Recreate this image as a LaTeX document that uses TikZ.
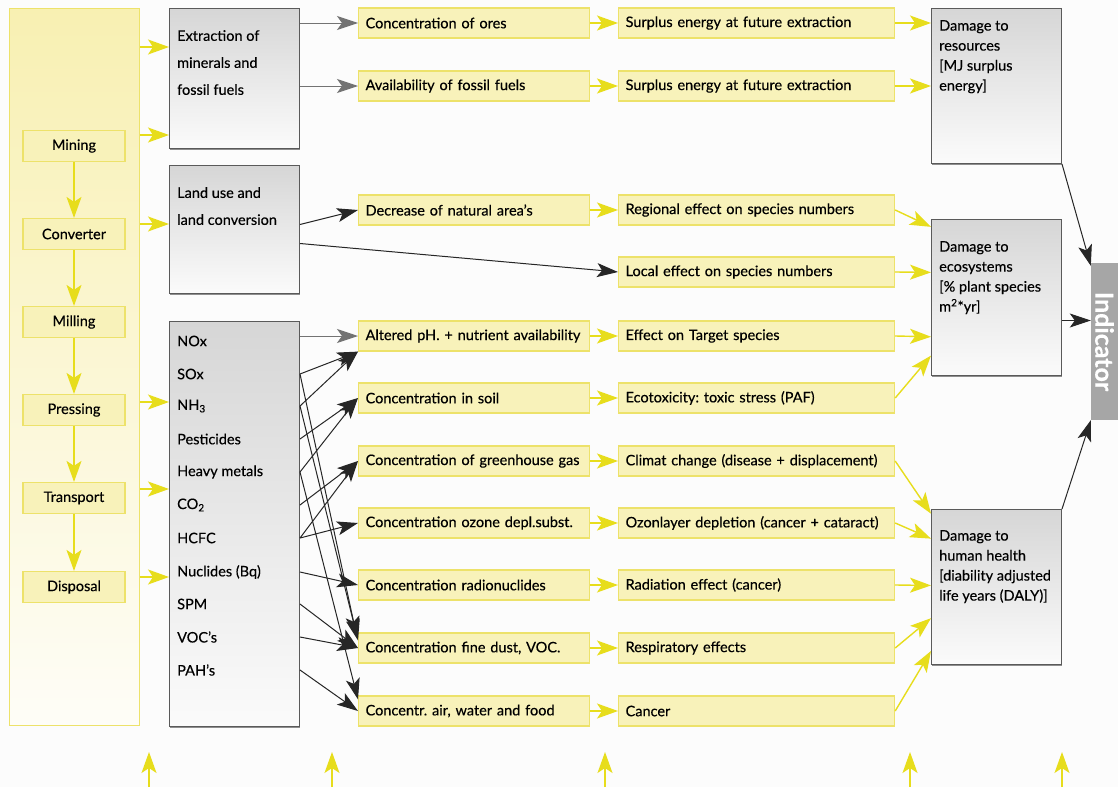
\documentclass[tikz,border=0pt]{standalone}
\usepackage{fontspec}
\setmainfont{Lato}[FakeBold=0.35]
\usetikzlibrary{positioning,arrows.meta,calc,shadows}
\frenchspacing

\definecolor{bgcol}{HTML}{FCFCFC}
\definecolor{ylline}{HTML}{EDE26A}
\definecolor{ylfill}{HTML}{F8F2BA}
\definecolor{ylarrow}{HTML}{E7DD1C}
\definecolor{paneltop}{HTML}{F8F0B2}
\definecolor{panelbot}{HTML}{FEFDF7}
\definecolor{grtop}{HTML}{D6D6D6}
\definecolor{grbot}{HTML}{FBFBFB}
\definecolor{grline}{HTML}{5A5A5A}
\definecolor{indgray}{HTML}{A6A6A6}

\tikzset{
  panel/.style={draw=ylline,line width=1pt,top color=paneltop,bottom color=panelbot,anchor=north west,minimum width=130pt,minimum height=717pt},
  stage/.style={draw=ylline,fill=ylfill,line width=1.2pt,minimum width=102pt,minimum height=31pt,inner sep=0pt},
  source/.style={draw=grline,line width=1pt,top color=grtop,bottom color=grbot,anchor=north west,minimum width=130pt,inner sep=0pt,
    drop shadow={shadow xshift=0.6pt,shadow yshift=-1.4pt,fill=black!55,opacity=0.8}},
  boxtext/.style={anchor=north west,align=left,inner sep=0pt},
  item/.style={anchor=west,inner sep=0pt},
  effect/.style={draw=ylline,fill=ylfill,line width=1.2pt,anchor=west,minimum height=30pt,align=left,inner xsep=7pt,inner ysep=0pt},
  conc/.style={effect,text width=217pt},
  impact/.style={effect,text width=262pt},
  yarrow/.style={draw=ylarrow,line width=1.4pt,-{Stealth[length=21pt,width=15pt,inset=5pt]}},
  barrow/.style={draw=black!85,line width=1pt,-{Stealth[length=21pt,width=14pt,inset=5pt]}},
  garrow/.style={barrow,draw=black!55},
}

\begin{document}
\begin{tikzpicture}[x=1pt,y=1pt,font=\fontsize{14.5}{17}\selectfont]
  \fill[bgcol] (0,0) rectangle (1118,-787);
  \useasboundingbox (0,0) rectangle (1118,-787);

  % process chain on the left
  \node[panel] (chain) at (9,-8) {};
  \node[stage] (mining) at (74,-146) {Mining};
  \node[stage] (converter) at (74,-234) {Converter};
  \node[stage] (milling) at (74,-322) {Milling};
  \node[stage] (pressing) at (74,-410) {Pressing};
  \node[stage] (transport) at (74,-498) {Transport};
  \node[stage] (disposal) at (74,-587) {Disposal};
  \draw[yarrow] (mining) -- (converter);
  \draw[yarrow] (converter) -- (milling);
  \draw[yarrow] (milling) -- (pressing);
  \draw[yarrow] (pressing) -- (transport);
  \draw[yarrow] (transport) -- (disposal);

  % inventory boxes
  \node[source,minimum height=140pt] (extr) at (169,-8) {};
  \node[boxtext,font=\fontsize{14.5}{27}\selectfont] (extrtxt) [below right=22pt and 8pt of extr.north west] {Extraction of\\minerals and\\fossil fuels};
  \node[source,minimum height=128pt] (land) at (169,-165) {};
  \node[boxtext,font=\fontsize{14.5}{27}\selectfont] (landtxt) [below right=22pt and 8pt of land.north west] {Land use and\\land conversion};
  \node[source,minimum height=405pt] (emis) at (169,-321) {};
  \node[item] (nox) at (177,-341) {NOx};
  \node[item] (sox) at (177,-374) {SOx};
  \node[item] (nh3) at (177,-406) {NH\textsubscript{3}};
  \node[item] (pest) at (177,-439) {Pesticides};
  \node[item] (metal) at (177,-472) {Heavy metals};
  \node[item] (co2) at (177,-505) {CO\textsubscript{2}};
  \node[item] (hcfc) at (177,-538) {HCFC};
  \node[item] (nucl) at (177,-572) {Nuclides (Bq)};
  \node[item] (spm) at (177,-604) {SPM};
  \node[item] (voc) at (177,-637) {VOC’s};
  \node[item] (pah) at (177,-670) {PAH’s};

  \draw[yarrow] (chain.east |- 0,-47) -- (extr.west |- 0,-47);
  \draw[yarrow] (chain.east |- 0,-135) -- (extr.west |- 0,-135);
  \draw[yarrow] (chain.east |- 0,-224) -- (land.west |- 0,-224);
  \draw[yarrow] (chain.east |- 0,-402) -- (emis.west |- 0,-402);
  \draw[yarrow] (chain.east |- 0,-489) -- (emis.west |- 0,-489);
  \draw[yarrow] (chain.east |- 0,-577) -- (emis.west |- 0,-577);

  % fate
  \node[conc] (ores) at (358,-23) {Concentration of ores};
  \node[conc] (fossil) at (358,-86) {Availability of fossil fuels};
  \node[conc] (natarea) at (358,-210) {Decrease of natural area’s};
  \node[conc] (acid) at (358,-336) {Altered pH. + nutrient availability};
  \node[conc] (soil) at (358,-398) {Concentration in soil};
  \node[conc] (ghg) at (358,-461) {Concentration of greenhouse gas};
  \node[conc] (ozone) at (358,-523) {Concentration ozone depl.subst.};
  \node[conc] (radio) at (358,-585) {Concentration radionuclides};
  \node[conc] (dust) at (358,-648) {Concentration fine dust, VOC.};
  \node[conc] (airfood) at (358,-711) {Concentr. air, water and food};

  % effect
  \node[impact] (surp1) at (618,-23) {Surplus energy at future extraction};
  \node[impact] (surp2) at (618,-86) {Surplus energy at future extraction};
  \node[impact] (regional) at (618,-210) {Regional effect on species numbers};
  \node[impact] (local) at (618,-272) {Local effect on species numbers};
  \node[impact] (target) at (618,-336) {Effect on Target species};
  \node[impact] (ecotox) at (618,-398) {Ecotoxicity: toxic stress (PAF)};
  \node[impact] (climate) at (618,-461) {Climat change (disease + displacement)};
  \node[impact] (ozlayer) at (618,-523) {Ozonlayer depletion (cancer + cataract)};
  \node[impact] (radiation) at (618,-585) {Radiation effect (cancer)};
  \node[impact] (respir) at (618,-648) {Respiratory effects};
  \node[impact] (cancer) at (618,-711) {Cancer};

  \draw[yarrow] (ores) -- (surp1);
  \draw[yarrow] (fossil) -- (surp2);
  \draw[yarrow] (natarea) -- (regional);
  \draw[yarrow] (acid) -- (target);
  \draw[yarrow] (soil) -- (ecotox);
  \draw[yarrow] (ghg) -- (climate);
  \draw[yarrow] (ozone) -- (ozlayer);
  \draw[yarrow] (radio) -- (radiation);
  \draw[yarrow] (dust) -- (respir);
  \draw[yarrow] (airfood) -- (cancer);

  % inventory to fate
  \draw[garrow] (extr.east |- ores) -- (ores.west);
  \draw[garrow] (extr.east |- fossil) -- (fossil.west);
  \draw[barrow] ($(land.east)+(0,5)$) -- (natarea.west);
  \draw[barrow] ($(land.east)+(0,-14)$) -- (local.west);
  \draw[garrow] (emis.east |- acid) -- (acid.west);
  \draw[barrow] (emis.east |- sox) -- (acid.south west);
  \draw[barrow] (emis.east |- nh3) -- (acid.south west);
  \draw[barrow] (emis.east |- pest) -- (soil.west);
  \draw[barrow] (emis.east |- metal) -- (soil.west);
  \draw[barrow] (emis.east |- co2) -- (ghg.west);
  \draw[barrow] (emis.east |- hcfc) -- (ghg.west);
  \draw[barrow] (emis.east |- hcfc) -- (ozone.west);
  \draw[barrow] (emis.east |- nucl) -- (radio.west);
  \draw[barrow] (emis.east |- sox) -- ($(dust.north west)+(-1,-5)$);
  \draw[barrow] (emis.east |- nh3) -- ($(dust.north west)+(0,-8)$);
  \draw[barrow] (emis.east |- spm) -- (dust.west);
  \draw[barrow] (emis.east |- voc) -- (dust.west);
  \draw[barrow] (emis.east |- metal) -- ($(airfood.north west)+(0,-4)$);
  \draw[barrow] (emis.east |- pah) -- (airfood.west);

  % damage categories
  \node[source,minimum height=155pt] (res) at (931,-8) {};
  \node[boxtext,font=\fontsize{14.5}{20}\selectfont] (restxt) [below right=12pt and 8pt of res.north west] {Damage to\\resources\\{}[MJ surplus\\energy]};
  \node[source,minimum height=156pt] (eco) at (931,-219) {};
  \node[boxtext,font=\fontsize{14.5}{20}\selectfont] (ecotxt) [below right=22pt and 8pt of eco.north west] {Damage to\\ecosystems\\{}[\% plant species\\m\textsuperscript{2}*yr]};
  \node[source,minimum height=155pt] (hh) at (931,-509) {};
  \node[boxtext,font=\fontsize{14.5}{20}\selectfont] (hhtxt) [below right=21pt and 8pt of hh.north west] {Damage to\\human health\\{}[diability adjusted\\life years (DALY)]};

  \draw[yarrow] (surp1) -- (res.west |- surp1);
  \draw[yarrow] (surp2) -- (res.west |- surp2);
  \draw[yarrow] (regional.east) -- ($(eco.north west)!0.05!(eco.south west)$);
  \draw[yarrow] (local.east) -- ($(eco.north west)!0.34!(eco.south west)$);
  \draw[yarrow] (target.east) -- ($(eco.north west)!0.75!(eco.south west)$);
  \draw[yarrow] (ecotox.east) -- ($(eco.north west)!0.87!(eco.south west)$);
  \draw[yarrow] (climate.east) -- ($(hh.north west)!0.03!(hh.south west)$);
  \draw[yarrow] (ozlayer.east) -- ($(hh.north west)!0.19!(hh.south west)$);
  \draw[yarrow] (radiation.east) -- ($(hh.north west)!0.49!(hh.south west)$);
  \draw[yarrow] (respir.east) -- ($(hh.north west)!0.70!(hh.south west)$);
  \draw[yarrow] (cancer.east) -- ($(hh.north west)!0.91!(hh.south west)$);

  % indicator
  \node[fill=indgray,minimum width=27pt,minimum height=157pt,inner sep=0pt] (ind) at (1104.5,-341.5) {};
  \node[rotate=-90,text=white,font=\bfseries\fontsize{25}{25}\selectfont] (indtxt) at (ind) {Indicator};
  \coordinate (indin) at ($(ind.west)+(0,21)$);
  \draw[barrow] (res.south east) -- ($(ind.north west)+(0,-3)$);
  \draw[barrow] (eco.east |- indin) -- (indin);
  \draw[barrow] (hh.north east) -- (ind.south west);

  % arrows along the bottom
  \coordinate (foot1) at (149,-787);
  \coordinate (foot2) at (332,-787);
  \coordinate (foot3) at (605,-787);
  \coordinate (foot4) at (910,-787);
  \coordinate (foot5) at (1062,-787);
  \draw[yarrow] (foot1) -- ++(0,35);
  \draw[yarrow] (foot2) -- ++(0,35);
  \draw[yarrow] (foot3) -- ++(0,35);
  \draw[yarrow] (foot4) -- ++(0,35);
  \draw[yarrow] (foot5) -- ++(0,35);
\end{tikzpicture}
\end{document}
